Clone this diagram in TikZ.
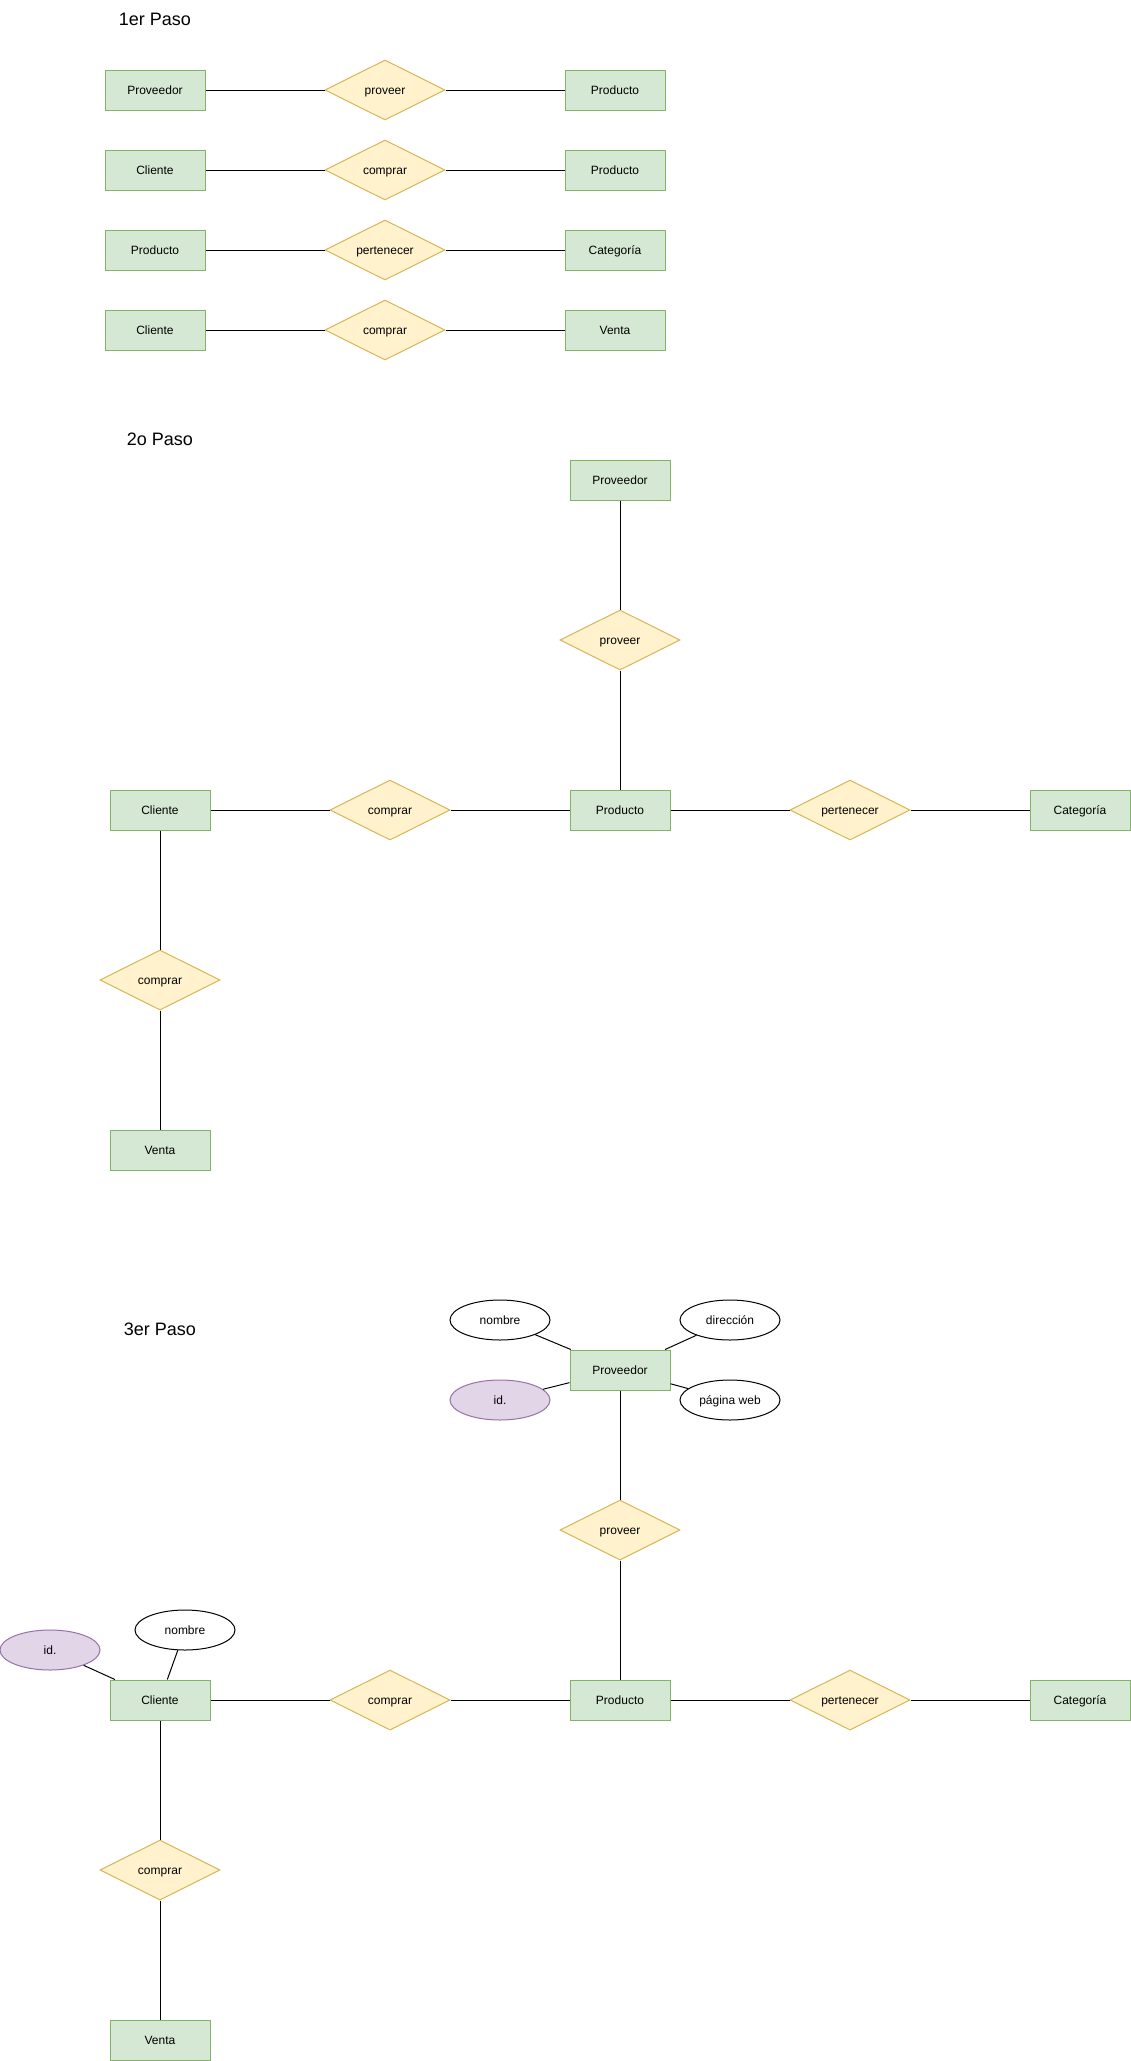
\documentclass[tikz,border=0pt]{standalone}
\usepackage{fontspec}
\setmainfont{Liberation Sans}
\usetikzlibrary{shapes.geometric}
\definecolor{entfill}{HTML}{D5E8D4}
\definecolor{entdraw}{HTML}{82B366}
\definecolor{relfill}{HTML}{FFF2CC}
\definecolor{reldraw}{HTML}{D6B656}
\definecolor{keyfill}{HTML}{E1D5E7}
\definecolor{keydraw}{HTML}{9673A6}
\tikzset{
  lbl/.style={font=\fontsize{12}{14}\selectfont, text height=10pt, text depth=2pt},
  entity/.style={lbl, draw=entdraw, fill=entfill, line width=1pt, rectangle, minimum width=100pt, minimum height=40pt, inner sep=0pt},
  relation/.style={lbl, draw=reldraw, fill=relfill, line width=1pt, diamond, aspect=2, minimum width=120pt, minimum height=60pt, inner sep=0pt},
  attrib/.style={lbl, draw=black, fill=white, line width=1pt, ellipse, minimum width=100pt, minimum height=40pt, inner sep=0pt},
  keyattr/.style={attrib, draw=keydraw, fill=keyfill},
  steptitle/.style={font=\fontsize{18}{22}\selectfont, inner sep=0pt},
  link/.style={draw=black, line width=1pt}
}
\begin{document}
\begin{tikzpicture}[x=1pt, y=-1pt]
\useasboundingbox (0,0) rectangle (1131,2061);
% ---------- 1er Paso ----------
\node[steptitle] (t1) at (155,19) {1er Paso};
\node[entity] (a1) at (155,90) {Proveedor};
\node[relation] (r1) at (385,90) {proveer};
\node[entity] (b1) at (615,90) {Producto};
\node[entity] (a2) at (155,170) {Cliente};
\node[relation] (r2) at (385,170) {comprar};
\node[entity] (b2) at (615,170) {Producto};
\node[entity] (a3) at (155,250) {Producto};
\node[relation] (r3) at (385,250) {pertenecer};
\node[entity] (b3) at (615,250) {Categoría};
\node[entity] (a4) at (155,330) {Cliente};
\node[relation] (r4) at (385,330) {comprar};
\node[entity] (b4) at (615,330) {Venta};
\foreach \i in {1,2,3,4}{
  \draw[link] (a\i) -- (r\i);
  \draw[link] (r\i) -- (b\i);
}
% ---------- 2o Paso ----------
\node[steptitle] (t2) at (160,439) {2o Paso};
\node[entity] (sprov) at (620,480) {Proveedor};
\node[relation] (sprovee) at (620,640) {proveer};
\node[entity] (sprod) at (620,810) {Producto};
\node[relation] (sperten) at (850,810) {pertenecer};
\node[entity] (scat) at (1080,810) {Categoría};
\node[relation] (scomp) at (390,810) {comprar};
\node[entity] (scli) at (160,810) {Cliente};
\node[relation] (scomp2) at (160,980) {comprar};
\node[entity] (svent) at (160,1150) {Venta};
\draw[link] (sprov) -- (sprovee);
\draw[link] (sprovee) -- (sprod);
\draw[link] (sprod) -- (sperten);
\draw[link] (sperten) -- (scat);
\draw[link] (scli) -- (scomp);
\draw[link] (scomp) -- (sprod);
\draw[link] (scli) -- (scomp2);
\draw[link] (scomp2) -- (svent);
% ---------- 3er Paso ----------
\node[steptitle] (t3) at (160,1329) {3er Paso};
\node[entity] (tprov) at (620,1370) {Proveedor};
\node[attrib] (tpnom) at (500,1320) {nombre};
\node[attrib] (tpdir) at (730,1320) {dirección};
\node[keyattr] (tpid) at (500,1400) {id.};
\node[attrib] (tpweb) at (730,1400) {página web};
\node[relation] (tprovee) at (620,1530) {proveer};
\node[entity] (tprod) at (620,1700) {Producto};
\node[relation] (tperten) at (850,1700) {pertenecer};
\node[entity] (tcat) at (1080,1700) {Categoría};
\node[relation] (tcomp) at (390,1700) {comprar};
\node[entity] (tcli) at (160,1700) {Cliente};
\node[keyattr] (tcid) at (50,1650) {id.};
\node[attrib] (tcnom) at (185,1630) {nombre};
\node[relation] (tcomp2) at (160,1870) {comprar};
\node[entity] (tvent) at (160,2040) {Venta};
\draw[link] (tpnom) -- (tprov);
\draw[link] (tpdir) -- (tprov);
\draw[link] (tpid) -- (tprov);
\draw[link] (tpweb) -- (tprov);
\draw[link] (tprov) -- (tprovee);
\draw[link] (tprovee) -- (tprod);
\draw[link] (tprod) -- (tperten);
\draw[link] (tperten) -- (tcat);
\draw[link] (tcli) -- (tcomp);
\draw[link] (tcomp) -- (tprod);
\draw[link] (tcid) -- (tcli);
\draw[link] (tcnom) -- (tcli);
\draw[link] (tcli) -- (tcomp2);
\draw[link] (tcomp2) -- (tvent);
\end{tikzpicture}
\end{document}
